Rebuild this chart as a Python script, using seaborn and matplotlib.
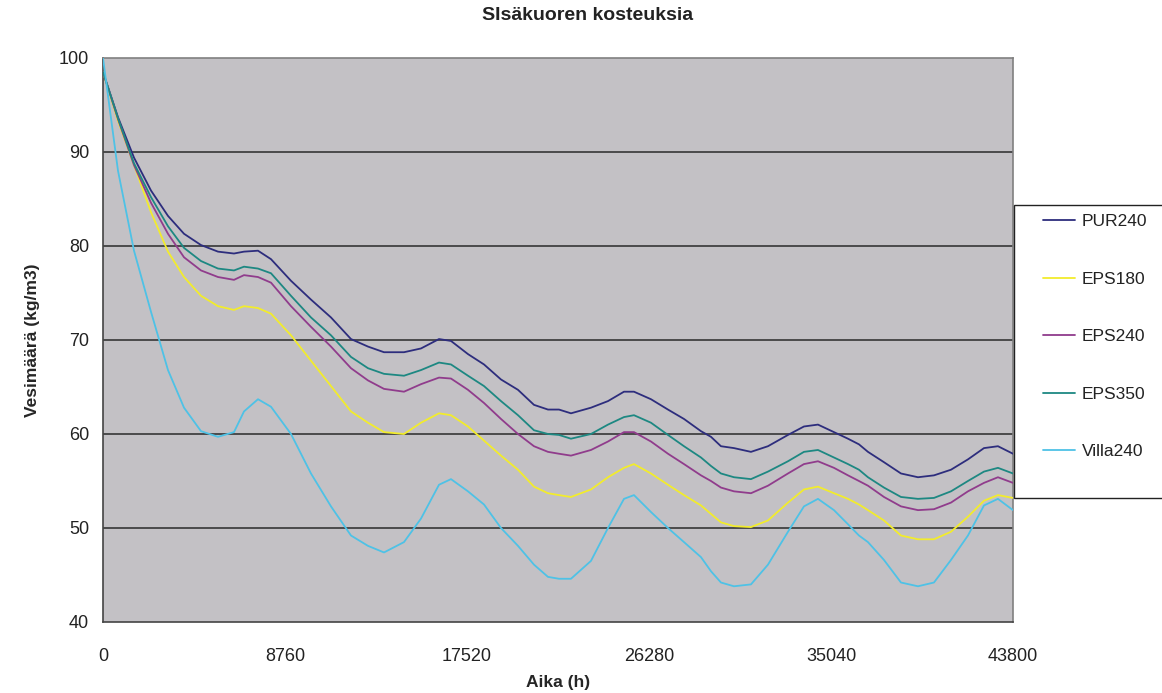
import matplotlib
matplotlib.use("Agg")
import matplotlib.pyplot as plt
from matplotlib.patches import Rectangle
import seaborn as sns
import pandas as pd

hours = [0, 722, 1492, 2310, 3128, 3899, 4717, 5535, 6305, 6786, 7460, 8086, 9048, 10010,
         10973, 11936, 12754, 13525, 14487, 15305, 16172, 16749, 17567, 18338, 19156, 19974,
         20744, 21418, 21947, 22525, 23487, 24306, 25076, 25557, 26375, 27193, 27964, 28782,
         29263, 29744, 30370, 31188, 32006, 32969, 33739, 34413, 35183, 35857, 36386, 36819,
         37590, 38408, 39226, 39996, 40814, 41632, 42403, 43076, 43800]

pur240 = [98.5, 93.7, 89.4, 85.9, 83.2, 81.3, 80.1, 79.4, 79.2, 79.4, 79.5, 78.6, 76.3, 74.3,
          72.4, 70.1, 69.3, 68.7, 68.7, 69.1, 70.1, 69.9, 68.5, 67.4, 65.8, 64.7,
          63.1, 62.6, 62.6, 62.2, 62.8, 63.5, 64.5, 64.5, 63.7, 62.6, 61.6, 60.3,
          59.7, 58.7, 58.5, 58.1, 58.7, 59.9, 60.8, 61.0, 60.2, 59.5, 58.9, 58.1,
          57.0, 55.8, 55.4, 55.6, 56.2, 57.3, 58.5, 58.7, 57.9]

eps180 = [98.5, 93.3, 88.6, 83.6, 79.4, 76.7, 74.7, 73.6, 73.2, 73.6, 73.4, 72.8, 70.5, 67.8,
          65.1, 62.4, 61.2, 60.2, 60.0, 61.2, 62.2, 62.0, 60.8, 59.3, 57.7, 56.2,
          54.4, 53.7, 53.5, 53.3, 54.1, 55.4, 56.4, 56.8, 55.8, 54.6, 53.5, 52.4,
          51.5, 50.6, 50.2, 50.1, 50.8, 52.7, 54.1, 54.4, 53.7, 53.1, 52.5, 51.9,
          50.8, 49.2, 48.8, 48.8, 49.6, 51.2, 52.9, 53.5, 53.2]

eps240 = [98.5, 93.5, 88.6, 84.6, 81.3, 78.8, 77.4, 76.7, 76.4, 76.9, 76.7, 76.1, 73.6, 71.4,
          69.3, 67.0, 65.7, 64.8, 64.5, 65.3, 66.0, 65.9, 64.7, 63.3, 61.6, 60.0,
          58.7, 58.1, 57.9, 57.7, 58.3, 59.2, 60.2, 60.2, 59.2, 57.9, 56.8, 55.6,
          55.0, 54.3, 53.9, 53.7, 54.5, 55.8, 56.8, 57.1, 56.4, 55.6, 55.0, 54.5,
          53.3, 52.3, 51.9, 52.0, 52.7, 53.9, 54.8, 55.4, 54.8]

eps350 = [98.5, 93.6, 88.8, 85.2, 82.1, 79.8, 78.4, 77.6, 77.4, 77.8, 77.6, 77.1, 74.7, 72.4,
          70.5, 68.2, 67.0, 66.4, 66.2, 66.8, 67.6, 67.4, 66.2, 65.1, 63.5, 62.0,
          60.4, 60.0, 59.9, 59.5, 60.0, 61.0, 61.8, 62.0, 61.2, 59.9, 58.7, 57.5,
          56.6, 55.8, 55.4, 55.2, 56.0, 57.1, 58.1, 58.3, 57.5, 56.8, 56.2, 55.4,
          54.3, 53.3, 53.1, 53.2, 53.9, 55.0, 56.0, 56.4, 55.8]

villa240 = [100.0, 88.0, 79.5, 73.0, 66.8, 62.8, 60.3, 59.7, 60.2, 62.4, 63.7, 62.9, 60.0, 55.8,
            52.3, 49.2, 48.1, 47.4, 48.5, 51.0, 54.6, 55.2, 53.9, 52.5, 50.0, 48.1,
            46.1, 44.8, 44.6, 44.6, 46.5, 50.0, 53.1, 53.5, 51.7, 50.0, 48.5, 46.9,
            45.4, 44.2, 43.8, 44.0, 46.1, 49.6, 52.3, 53.1, 51.9, 50.4, 49.2, 48.5,
            46.6, 44.2, 43.8, 44.2, 46.6, 49.2, 52.4, 53.1, 51.9]

series_names = ["PUR240", "EPS180", "EPS240", "EPS350", "Villa240"]
series_values = [pur240, eps180, eps240, eps350, villa240]
colors = ["#2d2d7d", "#f2ec2c", "#903c8c", "#1d8882", "#4ec2e6"]

x_ticks = [0, 8760, 17520, 26280, 35040, 43800]
y_ticks = [40, 50, 60, 70, 80, 90, 100]

rows = []
for name, vals in zip(series_names, series_values):
    for h, v in zip(hours, vals):
        rows.append({"Aika": h, "Vesimaara": v, "Sarja": name})
df = pd.DataFrame(rows)

sns.set_style("white")
plt.rcParams["font.family"] = ["Liberation Sans", "DejaVu Sans"]

W, H = 1162, 693
fig = plt.figure(figsize=(W / 100, H / 100), dpi=100)
ax = fig.add_axes([103 / W, 1 - 622 / H, 910 / W, 564 / H])
ax.set_facecolor("#c3c1c5")

sns.lineplot(data=df, x="Aika", y="Vesimaara", hue="Sarja", hue_order=series_names,
             palette=colors, linewidth=1.3, ax=ax, legend=True, zorder=3)

for yv in [50, 60, 70, 80, 90]:
    ax.axhline(yv, color="#2a2a2a", linewidth=1.1, zorder=1)

ax.set_xlim(0, 43800)
ax.set_ylim(40, 100)
ax.set_xticks(x_ticks)
ax.set_yticks(y_ticks)
ax.set_xticklabels([str(t) for t in x_ticks])
ax.tick_params(axis="both", direction="out", length=6, width=1, color="#333333",
               labelsize=13, labelcolor="#222222")
ax.tick_params(axis="y", pad=4)
ax.tick_params(axis="x", pad=13)
for sp in ax.spines.values():
    sp.set_color("#808080")
    sp.set_linewidth(1.2)
ax.spines["left"].set_color("#444444")
ax.spines["bottom"].set_color("#444444")

ax.set_xlabel("Aika (h)", fontsize=12.5, fontweight="bold")
ax.set_ylabel("Vesimäärä (kg/m3)", fontsize=12.5, fontweight="bold")
ax.xaxis.set_label_coords(0.5, -(675 - 622) / 564)
ax.yaxis.set_label_coords((40 - 103) / 910, 0.5)

fig.text(588 / W, 1 - 16 / H, "SIsäkuoren kosteuksia", ha="center", va="center",
         fontsize=14, fontweight="bold", color="#222222")

# legend box (extends past the right edge like the reference)
fig.patches.append(Rectangle((1014 / W, 1 - 498 / H), 0.2, (498 - 205) / H,
                             transform=fig.transFigure, facecolor="white",
                             edgecolor="#222222", linewidth=1.0, zorder=1))

handles, labels = ax.get_legend_handles_labels()
ax.legend_.remove()
leg = fig.legend(handles, labels, loc="upper left",
                 bbox_to_anchor=(1036 / W, 1 - 207 / H),
                 frameon=False, fontsize=12.5, labelspacing=2.44,
                 handlelength=1.84, handletextpad=0.4, borderpad=0.4,
                 borderaxespad=0.0)
for t in leg.get_texts():
    t.set_color("#222222")

fig.savefig("out.png", dpi=100, facecolor="white")
